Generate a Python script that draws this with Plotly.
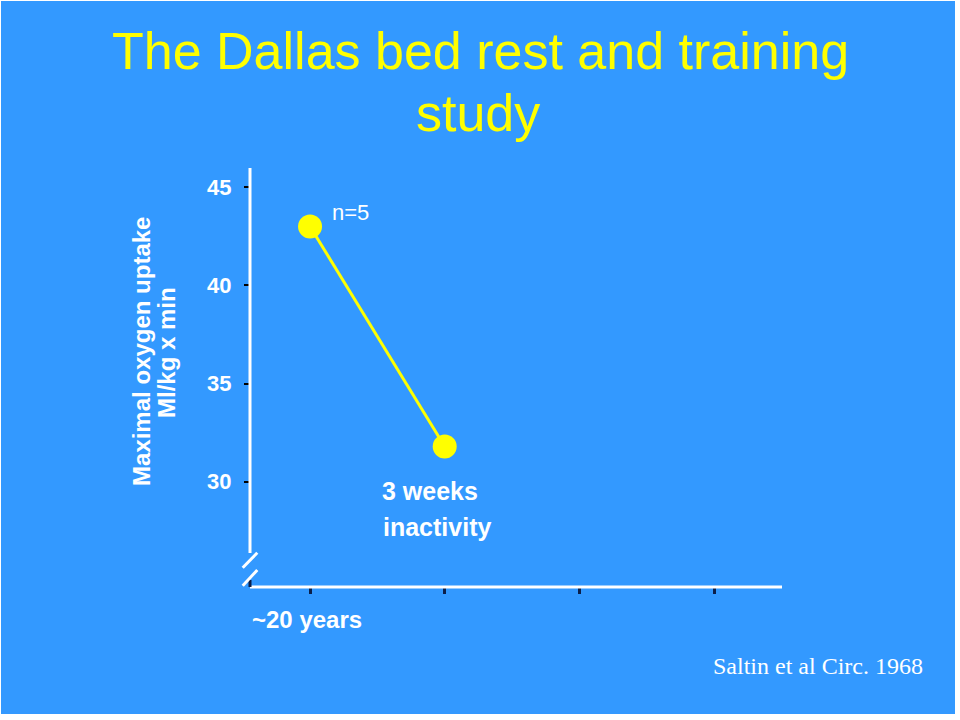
import plotly.graph_objects as go

# ---- data ----
x_positions = [1, 2]
vo2max = [43.0, 31.8]
y_tick_vals = [30, 35, 40, 45]
y_tick_labels = ["30", "35", "40", "45"]
x_tick_vals = [1, 2, 3, 4]

W, H = 960, 720
L, R, T, B = 250, 782, 168, 587  # plot area in pixels

def px(xp):
    return (xp - L) / (R - L)

def py(yp):
    return (B - yp) / (B - T)

BLUE = "#3399FF"
YELLOW = "#FFFF00"
SANS = "Liberation Sans, Arial, sans-serif"
SERIF = "Liberation Serif, Times New Roman, serif"

fig = go.Figure()
fig.add_trace(go.Scatter(
    x=x_positions, y=vo2max, mode="lines+markers",
    line=dict(color=YELLOW, width=3),
    marker=dict(color=YELLOW, size=24, line=dict(width=0)),
    hoverinfo="skip", showlegend=False, cliponaxis=False,
))

shapes = [
    # blue slide background with thin white border
    dict(type="rect", xref="paper", yref="paper", x0=px(1), x1=px(955), y0=py(714), y1=py(1),
         fillcolor=BLUE, line=dict(width=0), layer="below"),
    # y axis line (broken)
    dict(type="line", xref="paper", yref="paper", x0=0, x1=0, y0=py(553), y1=py(T),
         line=dict(color="white", width=3)),
    # x axis line
    dict(type="line", xref="paper", yref="paper", x0=0, x1=1, y0=0, y1=0,
         line=dict(color="white", width=3)),
    # small dark mark at the origin
    dict(type="line", xref="paper", yref="paper", x0=0, x1=0, y0=0, y1=py(580),
         line=dict(color="#0b1f4a", width=3)),
    # break marks
    dict(type="line", xref="paper", yref="paper", x0=px(242.7), x1=px(257.3), y0=py(567.7), y1=py(552.7),
         line=dict(color="white", width=3)),
    dict(type="line", xref="paper", yref="paper", x0=px(242.7), x1=px(257.3), y0=py(585.7), y1=py(570),
         line=dict(color="white", width=3)),
]

def ann(text, x, y, size, color="white", font=SANS, xanchor="left", angle=0):
    return dict(text=text, xref="paper", yref="paper", x=px(x), y=py(y),
                xanchor=xanchor, yanchor="middle", showarrow=False, textangle=angle,
                font=dict(family=font, size=size, color=color))

annotations = [
    ann("The Dallas bed rest and training", 480, 51, 52, YELLOW, xanchor="center"),
    ann("study", 478, 113, 52, YELLOW, xanchor="center"),
    ann("<b>Maximal oxygen uptake</b>", 141, 352, 24, xanchor="center", angle=-90),
    ann("<b>Ml/kg x min</b>", 166, 353, 24, xanchor="center", angle=-90),
    ann("n=5", 330, 212, 22),
    ann("<b>3 weeks</b>", 380, 491, 25),
    ann("<b>inactivity</b>", 381, 527, 25),
    ann("<b>~20 years</b>", 250, 619, 24),
    ann("Saltin et al Circ. 1968", 711, 666, 24, font=SERIF),
]

fig.update_layout(
    width=W, height=H,
    margin=dict(l=L, r=W - R, t=T, b=H - B),
    paper_bgcolor="white",
    plot_bgcolor="rgba(0,0,0,0)",
    shapes=shapes,
    annotations=annotations,
    xaxis=dict(range=[0.554, 4.505], tickvals=x_tick_vals, showticklabels=False,
               ticks="outside", ticklen=6, tickwidth=3, tickcolor="#0b1f4a",
               showgrid=False, zeroline=False, showline=False, fixedrange=True),
    yaxis=dict(range=[24.64, 45.98], tickvals=y_tick_vals, ticktext=y_tick_labels,
               ticks="outside", ticklen=5, tickwidth=2, tickcolor="black",
               tickfont=dict(family=SANS, size=22, color="white", weight="bold"),
               ticklabelstandoff=8,
               showgrid=False, zeroline=False, showline=False, fixedrange=True),
)

fig.write_html(
    "out.html",
    config={"displayModeBar": False},
    post_script="document.body.style.margin='0';document.body.style.overflow='hidden';",
)
